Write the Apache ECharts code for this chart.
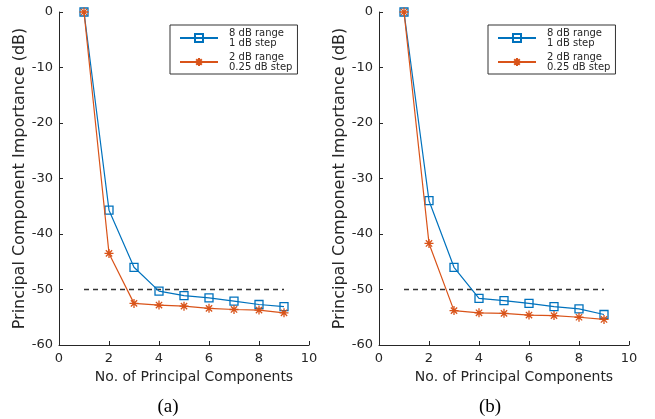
<!DOCTYPE html>
<html><head><meta charset="utf-8">
<script src="https://cdn.jsdelivr.net/npm/echarts@6/dist/echarts.min.js"></script>
<style>html,body{margin:0;padding:0;background:#fff}#c{width:655px;height:419px}</style>
</head><body><div id="c"></div>
<script>
const components = [1,2,3,4,5,6,7,8,9];
const blueA   = [0,-35.7,-46.0,-50.3,-51.1,-51.5,-52.1,-52.7,-53.1];
const orangeA = [0,-43.5,-52.5,-52.8,-53.0,-53.4,-53.6,-53.7,-54.2];
const blueB   = [0,-34.0,-46.0,-51.6,-52.0,-52.5,-53.1,-53.5,-54.5];
const orangeB = [0,-41.7,-53.8,-54.2,-54.3,-54.6,-54.7,-55.0,-55.4];
const thresholdX = [1,9];
const thresholdY = -50;
const nameBlue = '8 dB range\n1 dB step';
const nameOrange = '2 dB range\n0.25 dB step';
const captions = ['(a)','(b)'];

const BLUE = '#0072BD', ORANGE = '#D95319', AX = '#262626';
const FONT = 'DejaVu Sans';
const star = 'path://M0,-10L0,10M-10,0L10,0M-7,-7L7,7M-7,7L7,-7';

function pts(v){ return components.map((x,i)=>[x,v[i]]); }
function axes(i){
  return {
    x: {gridIndex:i, type:'value', min:0, max:10, interval:2,
      name:'No. of Principal Components', nameLocation:'middle', nameGap:25,
      nameTextStyle:{fontFamily:FONT,fontSize:14,color:AX,padding:[0,0,0,20]},
      axisLine:{onZero:false,lineStyle:{color:AX,width:1}},
      axisTick:{inside:true,length:4,lineStyle:{color:AX}},
      axisLabel:{fontFamily:FONT,fontSize:13,color:AX,margin:7},
      splitLine:{show:false}},
    y: {gridIndex:i, type:'value', min:-60, max:0, interval:10,
      name:'Principal Component Importance (dB)', nameLocation:'middle', nameGap:25,
      nameTextStyle:{fontFamily:FONT,fontSize:16,color:AX},
      axisLine:{show:true,onZero:false,lineStyle:{color:AX,width:1}},
      axisTick:{show:true,inside:true,length:4,lineStyle:{color:AX}},
      axisLabel:{fontFamily:FONT,fontSize:13,color:AX,margin:6},
      splitLine:{show:false}}
  };
}
const a0 = axes(0), a1 = axes(1);
function lineSeries(name, data, i, isBlue){
  return {name, type:'line', xAxisIndex:i, yAxisIndex:i, data:pts(data),
    symbol: isBlue ? 'rect' : star, symbolSize: isBlue ? 8 : 9,
    showAllSymbol:true,
    lineStyle:{color: isBlue?BLUE:ORANGE, width:1.2},
    itemStyle:{color: isBlue?'rgba(0,0,0,0)':ORANGE, borderColor: isBlue?BLUE:ORANGE, borderWidth:1.3},
    emphasis:{disabled:true}, animation:false, z: isBlue?3:4};
}
function dashSeries(i){
  return {type:'line', xAxisIndex:i, yAxisIndex:i, data:thresholdX.map(x=>[x,thresholdY]),
    symbol:'none', lineStyle:{color:'#333',width:1.5,type:[5,4]}, animation:false, z:2};
}
function legend(left){
  return {left, top:25, orient:'vertical', data:[nameBlue,nameOrange],
    borderColor:'#333', borderWidth:1, padding:[3,5,2,9], itemGap:4,
    itemWidth:38, itemHeight:10, selectedMode:false,
    textStyle:{fontFamily:FONT,fontSize:10,color:AX,lineHeight:10,padding:[0,0,0,6]}};
}
const option = {
  animation:false,
  grid:[{left:59,top:12,width:250,height:333},{left:379,top:12,width:250,height:333}],
  xAxis:[a0.x,a1.x], yAxis:[a0.y,a1.y],
  legend:[legend(170),legend(488)],
  series:[
    lineSeries(nameBlue, blueA, 0, true), lineSeries(nameOrange, orangeA, 0, false), dashSeries(0),
    lineSeries(nameBlue, blueB, 1, true), lineSeries(nameOrange, orangeB, 1, false), dashSeries(1)
  ],
  graphic:[
    {type:'text', x:168, y:407, style:{text:captions[0], font:'19px "Liberation Serif"', fill:'#000', align:'center', verticalAlign:'middle'}},
    {type:'text', x:490, y:407, style:{text:captions[1], font:'19px "Liberation Serif"', fill:'#000', align:'center', verticalAlign:'middle'}}
  ]
};
echarts.init(document.getElementById('c')).setOption(option);
</script></body></html>
